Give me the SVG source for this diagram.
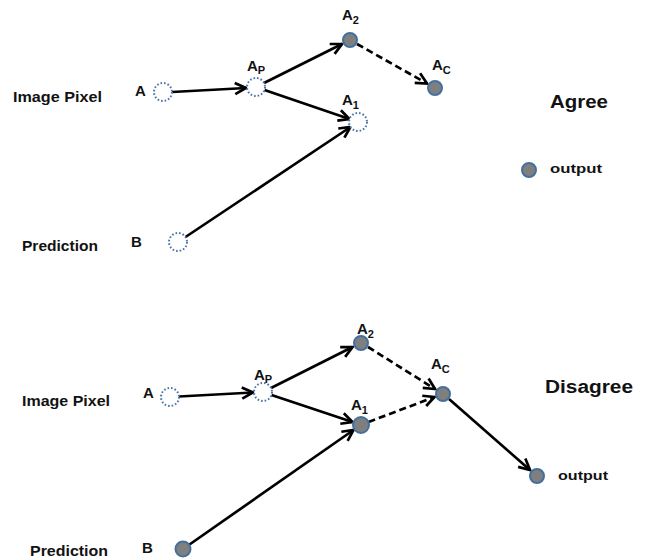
<svg xmlns="http://www.w3.org/2000/svg" width="646" height="559" viewBox="0 0 646 559">
  <style>
    .lbl { font-family: "Liberation Sans", Arial, sans-serif; font-weight: bold; fill: #121212; }
    .side { font-size: 14px; }
    .title { font-size: 18px; }
    .tag { font-size: 15px; }
    .sub { font-size: 11px; }
    .out { font-size: 13px; }
    .hollow { fill: #ffffff; stroke: #4a74a8; stroke-width: 2; stroke-dasharray: 1.6 2; }
    .solid { fill: #7f7f7f; stroke: #44709e; stroke-width: 2; }
    .edge { stroke: #000; stroke-width: 2.7; fill: none; marker-end: url(#head); }
    .dash { stroke-dasharray: 7 4; }
  </style>
  <defs>
    <marker id="head" markerUnits="userSpaceOnUse" markerWidth="14" markerHeight="14" refX="12" refY="6" orient="auto" overflow="visible">
      <path d="M1,0.5 L12,6 L1,11.5" fill="none" stroke="#000" stroke-width="2.7" stroke-linejoin="miter"/>
    </marker>
  </defs>
  <rect width="646" height="559" fill="#ffffff"/>

  <!-- connectors -->
  <g id="connectors">
    <!-- upper panel: agree -->
    <line class="edge" x1="172" y1="92" x2="246" y2="88"/>
    <line class="edge" x1="264" y1="83" x2="342" y2="44"/>
    <line class="edge" x1="264.5" y1="90" x2="349.5" y2="119"/>
    <line class="edge" x1="185.5" y1="237" x2="350.5" y2="127"/>
    <line class="edge dash" x1="357" y1="44" x2="427" y2="83.5"/>
    <!-- lower panel: disagree -->
    <line class="edge" x1="179" y1="396.5" x2="253" y2="392.5"/>
    <line class="edge" x1="271" y1="388" x2="352.5" y2="347"/>
    <line class="edge" x1="271.5" y1="395" x2="352.5" y2="422"/>
    <line class="edge" x1="189.5" y1="544.5" x2="353.5" y2="430"/>
    <line class="edge dash" x1="368" y1="347" x2="435" y2="389"/>
    <line class="edge dash" x1="368.5" y1="422" x2="434.5" y2="397"/>
    <line class="edge" x1="449" y1="399" x2="530" y2="470"/>
  </g>

  <!-- upper panel nodes -->
  <g id="agree-labels">
    <text class="lbl side" x="13" y="102" textLength="89" lengthAdjust="spacingAndGlyphs">Image Pixel</text>
    <text class="lbl side" x="22" y="251" textLength="76" lengthAdjust="spacingAndGlyphs">Prediction</text>
    <text class="lbl title" x="550" y="108" textLength="58" lengthAdjust="spacingAndGlyphs">Agree</text>
  </g>
  <g id="agree-a">
    <circle class="hollow" cx="163" cy="92" r="9"/>
    <text class="lbl tag" x="135" y="96">A</text>
  </g>
  <g id="agree-b">
    <circle class="hollow" cx="178" cy="242" r="9"/>
    <text class="lbl tag" x="131" y="247">B</text>
  </g>
  <g id="agree-ap">
    <circle class="hollow" cx="256" cy="87" r="9"/>
    <text class="lbl tag" x="247" y="71">A<tspan class="sub" dy="3">P</tspan></text>
  </g>
  <g id="agree-a2">
    <circle class="solid" cx="350" cy="40" r="7"/>
    <text class="lbl tag" x="342" y="20">A<tspan class="sub" dy="4">2</tspan></text>
  </g>
  <g id="agree-a1">
    <circle class="hollow" cx="358" cy="122" r="9"/>
    <text class="lbl tag" x="342" y="105">A<tspan class="sub" dy="4">1</tspan></text>
  </g>
  <g id="agree-ac">
    <circle class="solid" cx="435" cy="88" r="7"/>
    <text class="lbl tag" x="432" y="70">A<tspan class="sub" dy="4">C</tspan></text>
  </g>
  <g id="agree-output">
    <circle class="solid" cx="529" cy="170" r="7"/>
    <text class="lbl out" x="550" y="173" textLength="52" lengthAdjust="spacingAndGlyphs">output</text>
  </g>

  <!-- lower panel nodes -->
  <g id="disagree-labels">
    <text class="lbl side" x="22" y="406" textLength="88" lengthAdjust="spacingAndGlyphs">Image Pixel</text>
    <text class="lbl side" x="30" y="556" textLength="78" lengthAdjust="spacingAndGlyphs">Prediction</text>
    <text class="lbl title" x="545" y="393" textLength="88" lengthAdjust="spacingAndGlyphs">Disagree</text>
  </g>
  <g id="disagree-a">
    <circle class="hollow" cx="170" cy="397" r="9"/>
    <text class="lbl tag" x="143" y="398">A</text>
  </g>
  <g id="disagree-b">
    <circle class="solid" cx="183" cy="549" r="7.5"/>
    <text class="lbl tag" x="142" y="553">B</text>
  </g>
  <g id="disagree-ap">
    <circle class="hollow" cx="263" cy="392" r="9"/>
    <text class="lbl tag" x="254" y="380">A<tspan class="sub" dy="3">P</tspan></text>
  </g>
  <g id="disagree-a2">
    <circle class="solid" cx="361" cy="343" r="7"/>
    <text class="lbl tag" x="357" y="334">A<tspan class="sub" dy="4">2</tspan></text>
  </g>
  <g id="disagree-a1">
    <circle class="solid" cx="361" cy="425" r="8"/>
    <text class="lbl tag" x="351" y="410">A<tspan class="sub" dy="4">1</tspan></text>
  </g>
  <g id="disagree-ac">
    <circle class="solid" cx="443" cy="394" r="7"/>
    <text class="lbl tag" x="431" y="369">A<tspan class="sub" dy="4">C</tspan></text>
  </g>
  <g id="disagree-output">
    <circle class="solid" cx="537" cy="476" r="7"/>
    <text class="lbl out" x="558" y="480" textLength="50" lengthAdjust="spacingAndGlyphs">output</text>
  </g>
</svg>
